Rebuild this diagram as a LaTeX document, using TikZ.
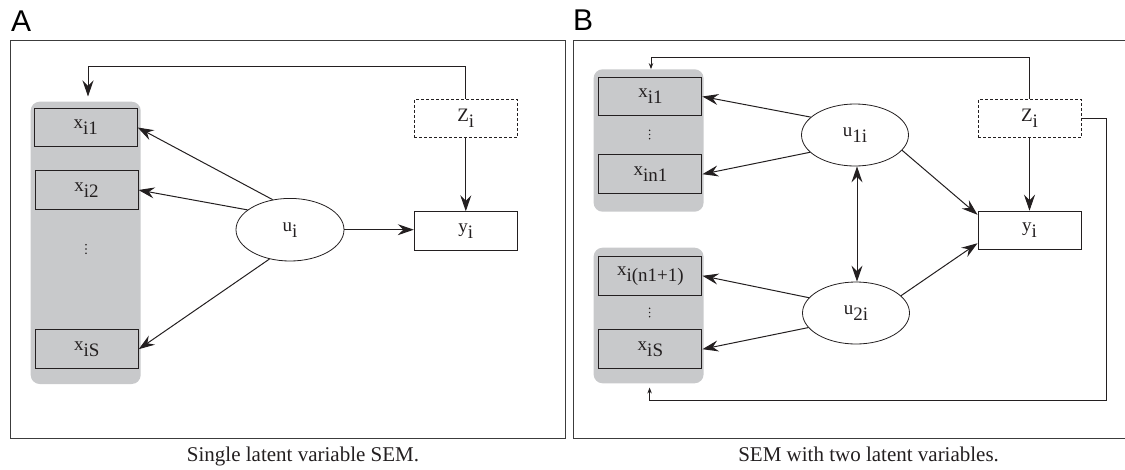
\documentclass[tikz,border=0pt]{standalone}
\usepackage{fontspec}
\setmainfont{Liberation Serif}
\newfontfamily\panelfont{Liberation Sans}
\usetikzlibrary{arrows.meta,shapes.geometric,calc}
\definecolor{ink}{HTML}{231F20}
\definecolor{panelgray}{HTML}{C8C9CB}
\definecolor{framegray}{HTML}{3C3C3C}
% variable name with a full-size, lowered index
\newcommand\lowidx[2]{#1\raisebox{-6pt}{#2}}
% three stacked dots marking omitted indicators
\newcommand\stackdots[1]{\foreach \k in {-4.2,0,4.2} {\fill[ink] ($(#1)+(0,\k)$) circle (0.85pt);}}

\begin{document}
\begin{tikzpicture}[x=1pt,y=-1pt,
  every node/.style={font=\fontsize{19}{21}\selectfont, text=ink},
  obs/.style={draw=ink, line width=1pt, minimum width=103pt, minimum height=38.5pt, inner sep=0pt},
  indic/.style={obs, fill=panelgray},
  ctrl/.style={obs, dash pattern=on 3pt off 2pt},
  latent/.style={ellipse, draw=ink, line width=0.8pt, minimum width=107pt, minimum height=62pt, inner sep=0pt},
  grp/.style={fill=panelgray, rounded corners=9pt, inner sep=0pt, minimum width=110pt},
  tip/.tip={Stealth[length=16pt,width=11pt,inset=5.5pt]},
  effect/.style={draw=ink, line width=1pt, -tip},
  mutual/.style={draw=ink, line width=1pt, tip-tip},
  loopback/.style={draw=ink, line width=0.9pt, -{Stealth[length=6pt,width=4.5pt,inset=2pt]}},
  panel/.style={draw=framegray, line width=1pt},
  caption/.style={font=\fontsize{21}{24}\selectfont, anchor=base},
  letter/.style={font=\panelfont\fontsize{30}{30}\selectfont, anchor=base west, inner sep=0pt, text=black}
]
\useasboundingbox (0,0) rectangle (1125,469);

% ---------- panel A: single latent variable ----------
\node[letter] (labA) at (11,31.5) {A};
\draw[panel] (10,40.5) rectangle (565,438);
\node[grp, minimum height=282.3pt] (gA) at (85.7,242.85) {};
\node[indic] (xA1) at (85.7,127.5) {\lowidx{x}{i1}};
\node[indic] (xA2) at (86.5,190) {\lowidx{x}{i2}};
\coordinate (vA) at (86,249);
\stackdots{vA}
\node[indic] (xAS) at (86.7,349.2) {\lowidx{x}{iS}};
\node[latent, minimum width=108pt, minimum height=62.6pt] (uA) at (290,229.7) {\lowidx{u}{i}};
\node[obs] (yA) at (465.8,231) {\lowidx{y}{i}};
\node[ctrl] (zA) at (465.8,118.5) {\lowidx{Z}{i}};

\draw[effect] (uA.120.5) -- (xA1.east);
\draw[effect] (uA.155) -- (xA2.east);
\draw[effect] (uA.235.4) -- (xAS.east);
\draw[effect] (uA.east) -- (uA.east -| yA.west);
\draw[effect] (zA.south) -- (yA.north);
\coordinate (fbA) at (88,66.5);
\draw[effect] (zA.north) |- (fbA) -- ([yshift=5pt]fbA |- gA.north);

\node[caption] (capA) at (303,461) {Single latent variable SEM.};

% ---------- panel B: two latent variables ----------
\node[letter] (labB) at (573,30.5) {B};
\draw[panel] (573,40.5) rectangle (1140,438);
\node[grp, minimum height=142.4pt] (gB1) at (648.6,140.5) {};
\node[grp, minimum height=135.6pt] (gB2) at (648.6,315.5) {};
\node[indic] (xB1) at (650.4,96.5) {\lowidx{x}{i1}};
\coordinate (vB1) at (649.6,134.5);
\stackdots{vB1}
\node[indic] (xBn) at (650.4,174.2) {\lowidx{x}{in1}};
\node[indic] (xBm) at (650.4,275.8) {\lowidx{x}{i(n1+1)}};
\coordinate (vB2) at (649.6,312.5);
\stackdots{vB2}
\node[indic] (xBS) at (650.4,349.2) {\lowidx{x}{iS}};
\node[latent] (u1) at (855,135) {\lowidx{u}{1i}};
\node[latent] (u2) at (856,313) {\lowidx{u}{2i}};
\node[obs] (yB) at (1029.5,230.5) {\lowidx{y}{i}};
\node[ctrl] (zB) at (1029.5,118.5) {\lowidx{Z}{i}};

\draw[effect] (u1.158.4) -- (xB1.east);
\draw[effect] (u1.201.3) -- (xBn.east);
\draw[effect] (u2.162.3) -- (xBm.east);
\draw[effect] (u2.197) -- (xBS.east);
\draw[effect] (u1.-18.8) -- ([yshift=-4pt]yB.north west);
\draw[effect] (u2.21.8) -- ([yshift=7pt]yB.south west);
\draw[mutual] (u1.south -| 857,0) -- (u2.north -| 857,0);
\draw[effect] (zB.south) -- (yB.north);
\coordinate (fbB1) at (651,57.3);
\draw[loopback] (zB.north) |- (fbB1) -- (fbB1 |- gB1.north);
\coordinate (fbB2) at (1106.5,400);
\draw[loopback] (zB.east) -| (fbB2) -- (649.6,400) -- ([yshift=-4pt]649.6,0 |- gB2.south);

\node[caption] (capB) at (868.6,461) {SEM with two latent variables.};
\end{tikzpicture}
\end{document}
